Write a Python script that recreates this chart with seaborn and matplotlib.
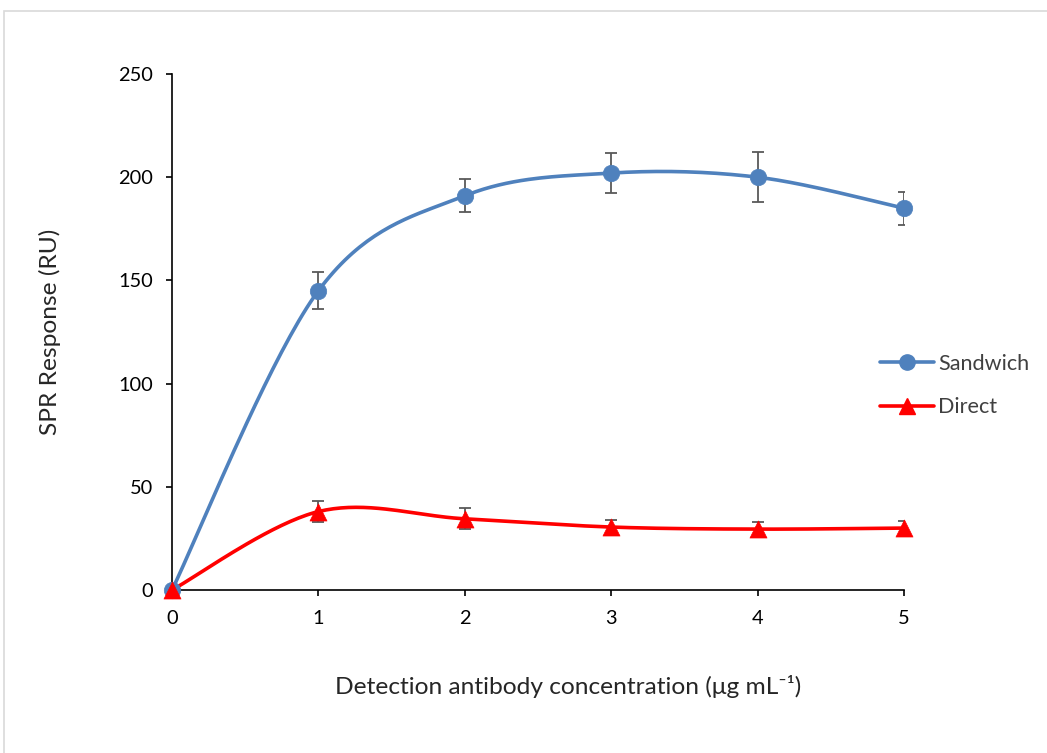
import numpy as np
import pandas as pd
import matplotlib
matplotlib.use("Agg")
import matplotlib.pyplot as plt
import seaborn as sns
from matplotlib.lines import Line2D
from matplotlib.patches import Rectangle

conc = [0, 1, 2, 3, 4, 5]
sandwich = [0, 145, 191, 202, 200, 185]
sandwich_err = [0, 9, 8, 9.5, 12, 8]
direct = [0, 38, 34.5, 30.5, 29.5, 30]
direct_err = [0, 5, 5, 3.5, 3.5, 3.5]
series_names = ['Sandwich', 'Direct']

def smooth(x, y, n=40):
    x = np.asarray(x, float); y = np.asarray(y, float)
    px = np.concatenate([[x[0]], x, [x[-1]]]); py = np.concatenate([[y[0]], y, [y[-1]]])
    xs, ys = [], []
    t = np.linspace(0, 1, n)
    for i in range(1, len(px) - 2):
        p0 = np.array([px[i], py[i]]); p3 = np.array([px[i+1], py[i+1]])
        c1 = p0 + (np.array([px[i+1], py[i+1]]) - np.array([px[i-1], py[i-1]])) / 6
        c2 = p3 - (np.array([px[i+2], py[i+2]]) - np.array([px[i], py[i]])) / 6
        b = ((1-t)**3)[:, None]*p0 + (3*(1-t)**2*t)[:, None]*c1 + (3*(1-t)*t**2)[:, None]*c2 + (t**3)[:, None]*p3
        xs.extend(b[:, 0]); ys.extend(b[:, 1])
    return np.array(xs), np.array(ys)

sns.set_style("white")
plt.rcParams['font.family'] = ['Lato', 'DejaVu Sans']

fig = plt.figure(figsize=(10.47, 7.53), dpi=100)
fig.patches.append(Rectangle((4/1047, -0.01), 1.02, 1 - 11/753 + 0.01, transform=fig.transFigure,
                             fill=False, edgecolor='#D9D9D9', linewidth=1.2))
ax = fig.add_axes([172/1047, 1 - 590/753, (904-172)/1047, (590-74)/753])

blue = '#4F81BD'
red = '#FF0000'

for yv, err, col, mk in [(sandwich, sandwich_err, blue, 'o'),
                         (direct, direct_err, red, '^')]:
    sx, sy = smooth(conc, yv)
    sns.lineplot(x=sx, y=sy, ax=ax, color=col, linewidth=2.6, sort=False, estimator=None, zorder=2)
    ax.errorbar(conc, yv, yerr=err, fmt='none', ecolor='#595959', elinewidth=1.3, capsize=4, capthick=1.3, zorder=3)
    sns.scatterplot(x=conc, y=yv, ax=ax, color=col, marker=mk, s=140 if mk == 'o' else 150,
                    edgecolor=col, linewidth=0.5, zorder=4, clip_on=False)

ax.set_xlim(0, 5)
ax.set_ylim(0, 250)
ax.set_xticks(conc)
ax.set_yticks([0, 50, 100, 150, 200, 250])
for s in ['top', 'right']:
    ax.spines[s].set_visible(False)
for s in ['left', 'bottom']:
    ax.spines[s].set_color('black')
    ax.spines[s].set_linewidth(1.2)
ax.tick_params(axis='both', which='both', direction='out', length=4.5, width=1.2, color='black',
               labelsize=14.5, labelcolor='black', left=True, bottom=True)
ax.tick_params(axis='x', pad=10)
ax.tick_params(axis='y', pad=9)
ax.set_xlabel('Detection antibody concentration (μg mL\u207b\u00b9)', fontsize=18)
ax.set_ylabel('SPR Response (RU)', fontsize=18)

# fit font sizes to reference text widths (pixels)
fig.canvas.draw()
r = fig.canvas.get_renderer()
w = ax.xaxis.label.get_window_extent(r).width
lab_fs = 18 * 464 / w
ax.xaxis.label.set_fontsize(lab_fs)
ax.yaxis.label.set_fontsize(lab_fs)
tl = [t for t in ax.get_yticklabels() if t.get_text() == '150'][0]
tw = tl.get_window_extent(r).width
tick_fs = 14.5 * 35 / tw
ax.tick_params(axis='both', labelsize=tick_fs)

ax.xaxis.set_label_coords((568 - 172) / 732, (590 - 686) / 516, transform=ax.transAxes)
ax.yaxis.set_label_coords((50 - 172) / 732, 0.5, transform=ax.transAxes)
ax.xaxis.label.set_va('center')
ax.yaxis.label.set_va('center')

handles = [Line2D([0], [0], color=blue, marker='o', markersize=11, linewidth=2.6),
           Line2D([0], [0], color=red, marker='^', markersize=11, linewidth=2.6)]

def make_legend(fs):
    px = fs * 100 / 72
    return fig.legend(handles, series_names, loc='center left', bbox_to_anchor=(880/1047, 1 - 385.5/753),
                      frameon=False, fontsize=fs, handlelength=54 / px, labelspacing=(45 - px) / px,
                      handletextpad=4 / px, borderpad=0, borderaxespad=0)

leg = make_legend(16)
fig.canvas.draw()
lw = leg.get_texts()[0].get_window_extent(r).width
leg_fs = 16 * 92 / lw
leg.remove()
leg = make_legend(leg_fs)
for t in leg.get_texts():
    t.set_color('#404040')

fig.savefig('out.png', dpi=100)
